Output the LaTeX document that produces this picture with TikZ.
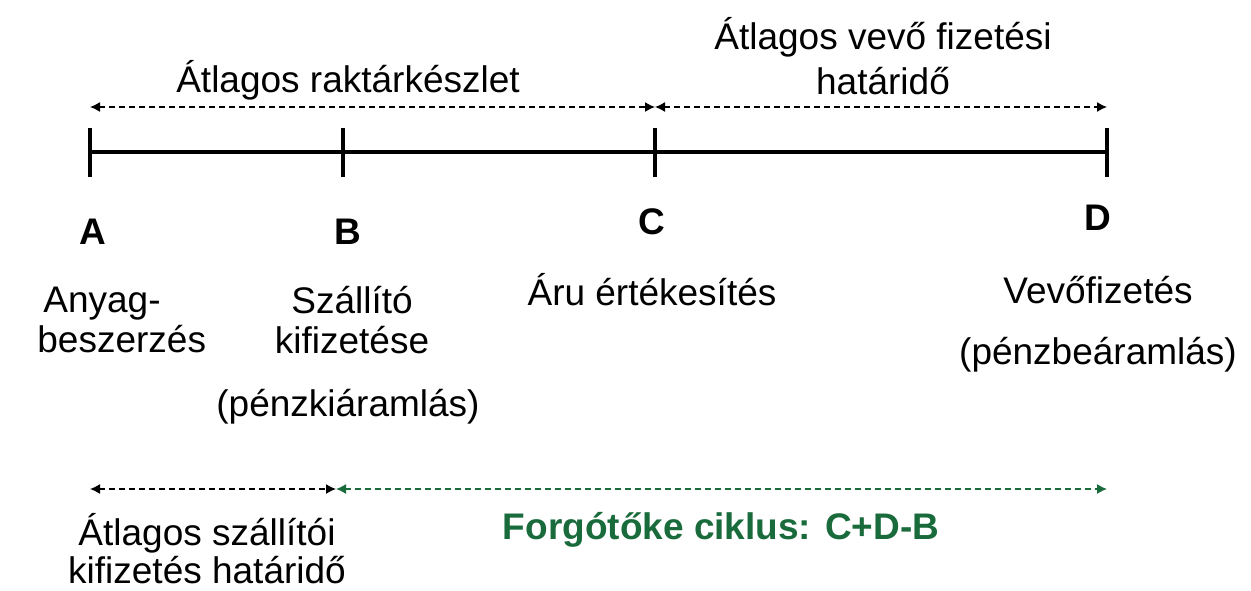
\documentclass[tikz,border=0pt]{standalone}
\usepackage{fontspec}
\setmainfont{Liberation Sans}
\usetikzlibrary{arrows.meta}
\definecolor{fgreen}{HTML}{1A6B3C}
\begin{document}
\begin{tikzpicture}[x=0.5pt,y=-0.5pt,
  lbl/.style={inner sep=0pt,font=\fontsize{18.5}{20}\selectfont,align=center},
  letter/.style={lbl,font=\fontsize{18.5}{20}\selectfont\bfseries},
  axis/.style={line width=2pt},
  dim/.style={line width=0.7pt,dash pattern=on 3pt off 2pt,{Latex[length=5pt,width=5pt]}-{Latex[length=5pt,width=5pt]}}]
\useasboundingbox (0,0) rectangle (1251,590);
% axis points
\coordinate (A0) at (90,152);
\coordinate (B0) at (343,152);
\coordinate (C0) at (655,152);
\coordinate (D0) at (1107,152);
\foreach \p/\x in {At/90,Bt/343,Ct/655,Dt/1107}{
  \coordinate (\p1) at (\x,128);
  \coordinate (\p2) at (\x,177);
}
\draw[axis] (A0) -- (D0);
\draw[axis] (At1) -- (At2);
\draw[axis] (Bt1) -- (Bt2);
\draw[axis] (Ct1) -- (Ct2);
\draw[axis] (Dt1) -- (Dt2);
% top dimension arrows
\coordinate (TA) at (90,107);
\coordinate (TC) at (655,107);
\coordinate (TD) at (1107,107);
\draw[dim] (TA) -- (TC);
\draw[dim] (TC) -- (TD);
% bottom dimension arrows
\coordinate (BA) at (90,489);
\coordinate (BB) at (336,489);
\coordinate (BD) at (1107,489);
\draw[dim] (BA) -- (BB);
\draw[dim,fgreen] (BB) -- (BD);
% texts
\node[lbl] (t1) at (348,80) {Átlagos raktárkészlet};
\node[lbl,font=\fontsize{18.5}{22.5}\selectfont] (t2) at (883,56) {Átlagos vevő fizetési\\határidő};
\node[letter] (A) at (93,232) {A};
\node[letter] (B) at (348,232) {B};
\node[letter] (C) at (652,222) {C};
\node[letter] (D) at (1098,218) {D};
\node[lbl,align=left,anchor=west] (a1) at (37,320) {\hspace*{3pt}Anyag-\\beszerzés};
\node[lbl] (b1) at (352,320) {Szállító\\kifizetése};
\node[lbl] (b2) at (348,407) {(pénzkiáramlás)};
\node[lbl] (c1) at (652,290) {Áru értékesítés};
\node[lbl] (d1) at (1098,290) {Vevőfizetés};
\node[lbl] (d2) at (1098,355) {(pénzbeáramlás)};
\node[lbl,font=\fontsize{18.5}{19}\selectfont] (e1) at (207,549) {Átlagos szállítói\\kifizetés határidő};
\node[lbl,text=fgreen,font=\fontsize{18.5}{20}\selectfont\bfseries] (f1) at (721,530) {Forgótőke ciklus: C+D-B};
\end{tikzpicture}
\end{document}
